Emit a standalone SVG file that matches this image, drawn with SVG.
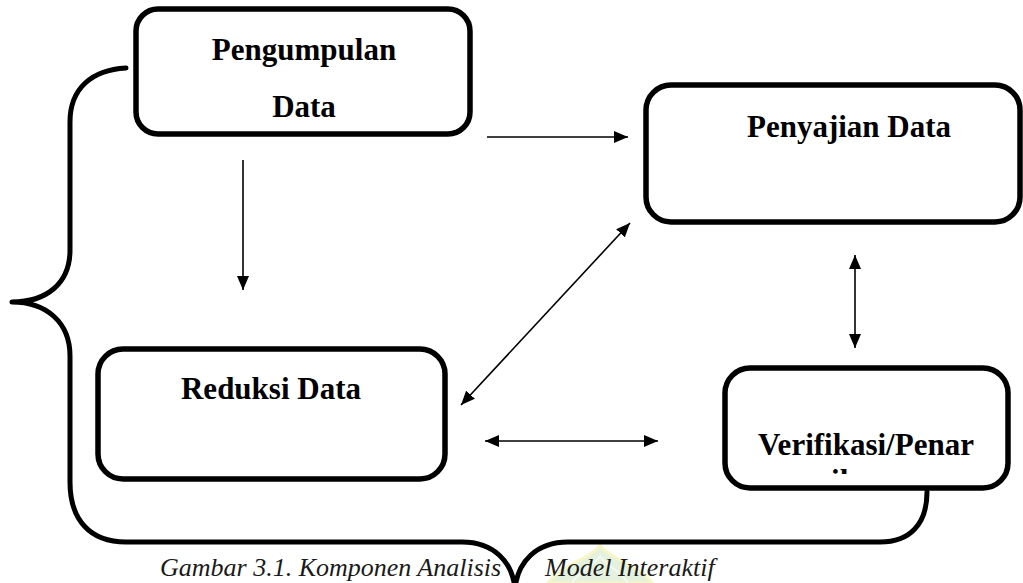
<svg xmlns="http://www.w3.org/2000/svg" width="1023" height="583" viewBox="0 0 1023 583">
  <style>
    .box { fill: #ffffff; stroke: #000000; stroke-width: 5.5; }
    .lbl { font-family: "Liberation Serif", "Times New Roman", serif; font-weight: bold; font-size: 31px; fill: #000000; text-anchor: middle; }
    .conn { stroke: #000000; stroke-width: 1.6; fill: none; }
    .brace { stroke: #000000; stroke-width: 5; fill: none; stroke-linecap: round; stroke-linejoin: round; }
    .cap { font-family: "Liberation Serif", "Times New Roman", serif; font-style: italic; font-size: 26px; fill: #1a1a1a; }
  </style>
  <defs>
    <marker id="ah" viewBox="0 0 14 12" refX="14" refY="6" markerWidth="14" markerHeight="12" markerUnits="userSpaceOnUse" orient="auto-start-reverse">
      <path d="M0,0 L14,6 L0,12 z" fill="#000000"/>
    </marker>
    <clipPath id="verClip">
      <rect x="728" y="371" width="277" height="103"/>
    </clipPath>
  </defs>

  <rect width="1023" height="583" fill="#ffffff"/>

  <!-- faint watermark -->
  <g id="watermark" opacity="0.55">
    <path d="M548 583 C 560 565, 590 560, 600 545 C 610 560, 640 565, 652 583 Z" fill="#cfe6c4" stroke="#f3ee9a" stroke-width="3"/>
    <path d="M572 583 C 580 570, 595 565, 600 556 C 605 565, 620 570, 628 583" fill="none" stroke="#eef3e6" stroke-width="2"/>
  </g>

  <!-- brace -->
  <g id="brace">
    <path class="brace" d="M126 68 C 92 70, 70 88, 70 122 L 70 250 C 70 284, 46 302, 12 302 C 46 302, 70 322, 70 356 L 70 482 C 70 520, 90 542, 126 542 L 462 542 C 494 542, 512 562, 515 588 C 518 562, 536 542, 568 542 L 880 542 C 910 542, 927 524, 927 492"/>
  </g>

  <g id="connectors">
    <line class="conn" x1="487" y1="137" x2="628" y2="137" marker-end="url(#ah)"/>
    <line class="conn" x1="243" y1="160" x2="243" y2="290" marker-end="url(#ah)"/>
    <line class="conn" x1="461" y1="405" x2="630" y2="223" marker-start="url(#ah)" marker-end="url(#ah)"/>
    <line class="conn" x1="855" y1="255" x2="855" y2="348" marker-start="url(#ah)" marker-end="url(#ah)"/>
    <line class="conn" x1="485" y1="441" x2="658" y2="441" marker-start="url(#ah)" marker-end="url(#ah)"/>
  </g>

  <g id="node-pengumpulan">
    <rect class="box" x="136" y="9" width="334" height="125" rx="22"/>
    <text class="lbl" x="304" y="60">Pengumpulan</text>
    <text class="lbl" x="304" y="117">Data</text>
  </g>

  <g id="node-penyajian">
    <rect class="box" x="646" y="85" width="374" height="137" rx="25"/>
    <text class="lbl" x="849" y="137">Penyajian Data</text>
  </g>

  <g id="node-reduksi">
    <rect class="box" x="98" y="349" width="347" height="130" rx="25"/>
    <text class="lbl" x="271" y="399">Reduksi Data</text>
  </g>

  <g id="node-verifikasi">
    <rect class="box" x="725" y="368" width="283" height="120" rx="25"/>
    <g clip-path="url(#verClip)">
      <text class="lbl" x="866" y="455">Verifikasi/Penar</text>
      <text class="lbl" x="844" y="491">ik</text>
    </g>
  </g>

  <g id="caption">
    <text class="cap" x="160" y="576">Gambar 3.1. Komponen Analisis</text>
    <text class="cap" x="545" y="576">Model Interaktif</text>
  </g>
</svg>
